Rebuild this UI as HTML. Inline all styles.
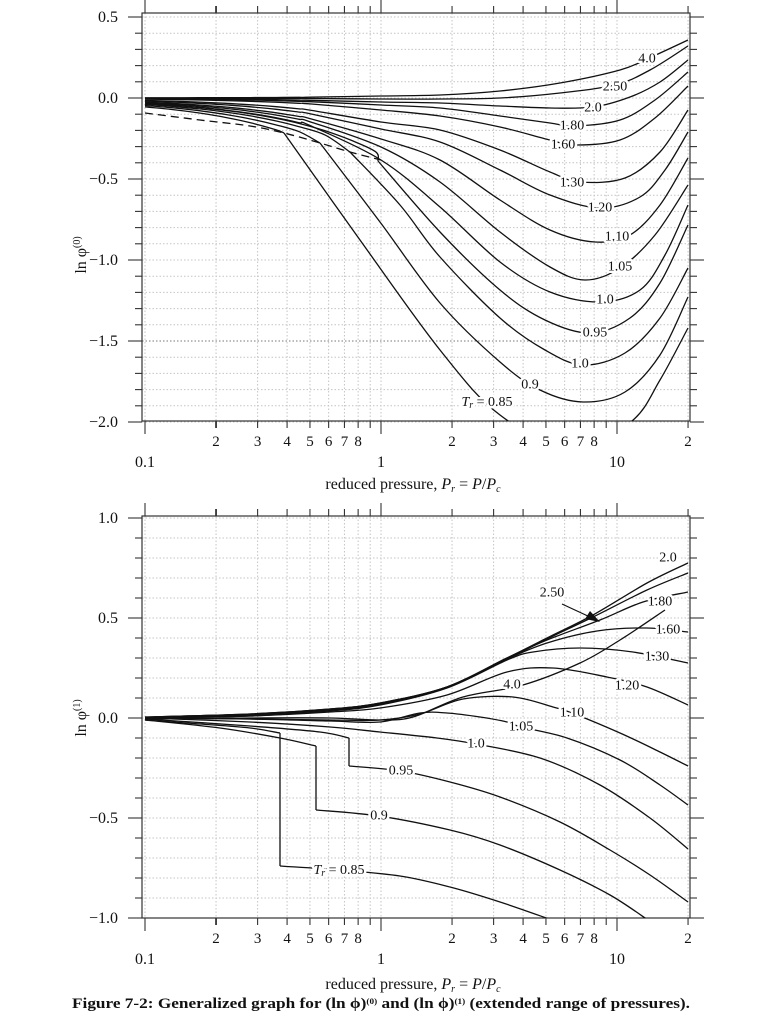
<!DOCTYPE html>
<html><head><meta charset="utf-8">
<style>
html,body{margin:0;padding:0;background:#fff;}
svg{display:block;}
text{font-family:"Liberation Serif",serif;fill:#111;}
.lab{font-size:14px;stroke:#fff;stroke-width:5px;paint-order:stroke;stroke-linejoin:round;text-anchor:middle;dominant-baseline:central;}
</style></head>
<body>
<div id="c"></div>
<script>
(function(){
var s=[];
function X(p){return 145+236*(Math.log10(p)+1);}
function cr(pts){
  var d='M'+pts[0][0].toFixed(1)+','+pts[0][1].toFixed(1);
  for(var i=0;i<pts.length-1;i++){
    var p0=pts[i-1]||pts[i],p1=pts[i],p2=pts[i+1],p3=pts[i+2]||p2;
    var c1=[p1[0]+(p2[0]-p0[0])/6,p1[1]+(p2[1]-p0[1])/6];
    var c2=[p2[0]-(p3[0]-p1[0])/6,p2[1]-(p3[1]-p1[1])/6];
    d+=' C'+c1[0].toFixed(1)+','+c1[1].toFixed(1)+' '+c2[0].toFixed(1)+','+c2[1].toFixed(1)+' '+p2[0].toFixed(1)+','+p2[1].toFixed(1);
  }
  return d;
}
function yT(v){return 98-162*v;}
function vir(Tr,pmax){
  var B0=0.083-0.422/Math.pow(Tr,1.6);var pts=[];
  var prs=[0.1,0.13,0.17,0.22,0.28,0.36,0.45,0.58,0.75,0.95];
  for(var i=0;i<prs.length;i++){if(prs[i]<pmax-0.005)pts.push([X(prs[i]),yT(B0*prs[i]/Tr)]);}
  pts.push([X(pmax),yT(B0*pmax/Tr)]);
  return pts;
}
function path(d,extra){s.push('<path d="'+d+'" fill="none" stroke="#111" stroke-width="1.3" '+(extra||'')+'/>');}
function txt(x,y,t,cls,extra){s.push('<text x="'+x+'" y="'+y+'" '+(cls?'class="'+cls+'" ':'')+(extra||'')+'>'+t+'</text>');}

function axes(top,bot,vals,yf,grid,dark){
  var L=142,R=690;
  for(var g=0;g<grid.length;g++){var y=yf(grid[g]);
    s.push('<line x1="'+L+'" x2="'+R+'" y1="'+y+'" y2="'+y+'" stroke="'+(Math.abs(grid[g]-dark)<1e-6?'#777':'#c4c4c4')+'" stroke-width="1" stroke-dasharray="1.5 2"/>');}
  var decs=[0.1,1,10];
  for(var d=0;d<3;d++)for(var m=1;m<=9;m++){var p=decs[d]*m;if(p>20.01)break;var x=X(p);
    if(x>R-1)continue;
    s.push('<line x1="'+x+'" x2="'+x+'" y1="'+top+'" y2="'+bot+'" stroke="#c4c4c4" stroke-width="1" stroke-dasharray="1.5 2"/>');}
  s.push('<rect x="'+L+'" y="'+top+'" width="'+(R-L)+'" height="'+(bot-top)+'" fill="none" stroke="#333" stroke-width="1.2"/>');
  for(var d=0;d<3;d++)for(var m=1;m<=9;m++){var p=decs[d]*m;if(p>20.01)break;var x=X(p);var maj=(m==1);
    var len=maj?13:7;
    s.push('<line x1="'+x+'" x2="'+x+'" y1="'+top+'" y2="'+(top-len)+'" stroke="#333" stroke-width="'+(m==2&&d==0?1.8:1.1)+'"/>');
    s.push('<line x1="'+x+'" x2="'+x+'" y1="'+bot+'" y2="'+(bot+len)+'" stroke="#333" stroke-width="'+(m==2&&d==0?1.8:1.1)+'"/>');
    if(!maj&&m!=9)txt(x,bot+25,''+m,'','font-size="15" text-anchor="middle"');
  }
  txt(X(0.1),bot+46,'0.1','','font-size="16" text-anchor="middle"');
  txt(X(1),bot+46,'1','','font-size="16" text-anchor="middle"');
  txt(X(10),bot+46,'10','','font-size="16" text-anchor="middle"');
  for(var g=0;g<grid.length;g++){var v=grid[g];var y=yf(v);
    var maj=Math.abs(Math.round(v*2)-v*2)<1e-6;var len=maj?14:7;
    s.push('<line x1="'+L+'" x2="'+(L-len)+'" y1="'+y+'" y2="'+y+'" stroke="#333" stroke-width="1.1"/>');
    s.push('<line x1="'+R+'" x2="'+(R+len)+'" y1="'+y+'" y2="'+y+'" stroke="#333" stroke-width="1.1"/>');
  }
  for(var i=0;i<vals.length;i++){var v=vals[i];var t=(v<0?'\u2212':'')+Math.abs(v).toFixed(1);
    txt(118,yf(v)+5,t,'','font-size="16" text-anchor="end"');}
}

s.push('<svg xmlns="http://www.w3.org/2000/svg" width="768" height="1024" viewBox="0 0 768 1024">');
s.push('<defs><clipPath id="c1"><rect x="142" y="13" width="548" height="408"/></clipPath><clipPath id="c2"><rect x="142" y="516" width="548" height="402"/></clipPath></defs>');

var gT=[];for(var k=5;k>=-20;k--)gT.push(k/10);
axes(13,421,[0.5,0,-0.5,-1,-1.5,-2],yT,gT,-1.5);
s.push('<g clip-path="url(#c1)">');
var smooth=[
 [1.0,[[381,160],[440,207],[500,262],[550,292],[600,302],[640,290],[665,255],[688,205]]],
 [1.05,[[381,147],[440,182],[500,232],[550,267],[585,280],[620,268],[655,235],[688,185]]],
 [1.10,[[381,139],[440,160],[500,200],[550,230],[595,242],[630,235],[660,205],[688,158]]],
 [1.20,[[381,129],[440,142],[500,170],[550,195],[600,208],[640,197],[665,170],[688,132]]],
 [1.30,[[381,122],[440,130],[500,150],[550,172],[580,182],[625,178],[660,152],[688,110]]],
 [1.60,[[381,110],[440,116],[500,127],[550,140],[575,145],[620,140],[655,118],[688,86]]],
 [1.80,[[381,105],[440,108],[500,116],[550,123],[575,126],[620,120],[655,100],[688,72]]],
 [2.0,[[381,102],[440,103],[500,106],[550,108],[593,107],[630,97],[660,82],[688,60]]],
 [2.5,[[381,99],[440,99],[500,98],[560,93],[615,85],[650,70],[688,46]]],
 [4.0,[[381,96],[440,95],[500,91],[560,83],[620,70],[647,59],[688,40]]]
];
for(var i=0;i<smooth.length;i++){path(cr(vir(smooth[i][0],0.5).concat(smooth[i][1])));}
var kinked=[
 [0.85,[[284,133],[360,240],[440,350],[500,415],[575,452],[632,421],[660,380],[688,328]]],
 [0.90,[[320,143],[380,222],[440,303],[500,362],[540,390],[583,402],[625,392],[660,355],[688,297]]],
 [0.95,[[350,152],[400,205],[440,257],[500,318],[545,350],[583,365],[625,353],[660,318],[688,268]]],
 [0.99,[[378,161],[440,232],[500,290],[545,320],[590,333],[630,318],[660,283],[688,225]]]
];
for(var i=0;i<kinked.length;i++){var k0=kinked[i][1][0];var ps=Math.pow(10,(k0[0]-145)/236-1);
  var v=vir(kinked[i][0],ps);v[v.length-1]=[k0[0],k0[1]];path(cr(v));path(cr(kinked[i][1]));}
path(cr([[145,113],[200,120],[250,126],[284,133],[320,143],[350,152],[381,160]]),'stroke-dasharray="8 5" stroke-width="1.8"');
s.push('</g>');
var lt=[['4.0',647,59],['2.50',615,87],['2.0',593,108],['1.80',572,126],['1.60',563,145],['1.30',572,183],['1.20',600,208],['1.10',617,237],['1.05',620,267],['1.0',605,300],['0.95',595,333],['1.0',580,364],['0.9',530,385]];
for(var i=0;i<lt.length;i++)txt(lt[i][1],lt[i][2],lt[i][0],'lab');
txt(487,402,'<tspan font-style="italic">T</tspan><tspan font-size="10" dy="3" font-style="italic">r</tspan><tspan dy="-3"> = 0.85</tspan>','lab');
txt(413,489,'reduced pressure, <tspan font-style="italic">P</tspan><tspan font-size="10" dy="3" font-style="italic">r</tspan><tspan dy="-3"> = </tspan><tspan font-style="italic">P</tspan>/<tspan font-style="italic">P</tspan><tspan font-size="10" dy="3" font-style="italic">c</tspan>','','font-size="16" text-anchor="middle"');
txt(0,0,'ln φ<tspan font-size="10" dy="-6">(0)</tspan>','','font-size="16" text-anchor="middle" transform="translate(86,255) rotate(-90)"');

function yB(v){return 718-200*v;}
var gB=[];for(var k=10;k>=-10;k--)gB.push(k/10);
axes(516,918,[1,0.5,0,-0.5,-1],yB,gB,99);
s.push('<g clip-path="url(#c2)">');
var bc=[
 [[145,720],[200,724],[250,728],[280,733]],[[280,733],[280,866]],[[280,866],[339,870],[400,876],[450,887],[500,902],[552,920]],
 [[145,720],[220,728],[280,738],[316,746]],[[316,746],[316,810]],[[316,810],[379,816],[450,830],[500,845],[560,870],[610,895],[648,920]],
 [[145,719],[250,726],[320,732],[349,738]],[[349,738],[349,766]],[[349,766],[401,771],[450,782],[500,797],[560,822],[610,850],[650,875],[688,902]],
 [[145,718],[250,722],[330,727],[380,732],[437,738],[476,744],[540,758],[600,785],[650,818],[688,849]],
 [[145,718],[250,719],[330,721],[380,722],[420,713],[447,713],[480,717],[507,722],[521,727],[567,738],[620,760],[660,785],[688,805]],
 [[145,718],[250,719],[330,720],[380,720],[420,714],[463,699],[513,697],[553,707],[572,713],[620,733],[660,752],[688,766]],
 [[145,718],[250,716],[330,712],[380,708],[447,695],[507,672],[553,668],[607,677],[647,687],[688,705]],
 [[145,718],[250,716],[330,711],[380,705],[447,688],[507,660],[533,652],[580,648],[633,652],[688,663]],
 [[145,718],[250,715],[330,710],[380,704],[447,687],[507,659],[547,643],[597,631],[647,628],[688,632]],
 [[145,718],[250,715],[330,710],[380,704],[447,687],[507,658],[547,640],[600,620],[643,602],[688,592]],
 [[145,717],[250,714],[330,709],[380,703],[447,687],[507,659],[547,639],[593,617],[647,590],[688,573]],
 [[145,717],[250,714],[330,709],[380,703],[447,687],[507,658],[547,638],[593,615],[647,583],[688,563]],
 [[145,719],[250,718],[330,718],[380,720],[413,717],[463,697],[523,685],[580,663],[620,640],[665,610]]
];
for(var i=0;i<bc.length;i++)path(cr(bc[i]));
s.push('</g>');
s.push('<line x1="562" y1="604" x2="590" y2="617" stroke="#111" stroke-width="1.2"/>');
s.push('<polygon points="600,622 585,619 590,611" fill="#111"/>');
var lb=[['2.0',668,558],['2.50',552,593],['1.80',660,602],['1.60',668,630],['1.30',657,657],['1.20',627,686],['4.0',512,685],['1.10',572,713],['1.05',521,727],['1.0',476,744],['0.95',401,771],['0.9',379,816]];
for(var i=0;i<lb.length;i++)txt(lb[i][1],lb[i][2],lb[i][0],'lab');
txt(339,870,'<tspan font-style="italic">T</tspan><tspan font-size="10" dy="3" font-style="italic">r</tspan><tspan dy="-3"> = 0.85</tspan>','lab');
txt(413,989,'reduced pressure, <tspan font-style="italic">P</tspan><tspan font-size="10" dy="3" font-style="italic">r</tspan><tspan dy="-3"> = </tspan><tspan font-style="italic">P</tspan>/<tspan font-style="italic">P</tspan><tspan font-size="10" dy="3" font-style="italic">c</tspan>','','font-size="16" text-anchor="middle"');
txt(0,0,'ln φ<tspan font-size="10" dy="-6">(1)</tspan>','','font-size="16" text-anchor="middle" transform="translate(86,718) rotate(-90)"');

txt(72,1008,'Figure 7-2: Generalized graph for (ln ϕ)<tspan font-size="8" dy="-4">(0)</tspan><tspan dy="4"> and (ln ϕ)</tspan><tspan font-size="8" dy="-4">(1)</tspan><tspan dy="4"> (extended range of pressures).</tspan>','','font-size="15" font-weight="bold" fill="#333" textLength="618" lengthAdjust="spacingAndGlyphs"');
s.push('</svg>');
document.getElementById('c').innerHTML=s.join('');
})();
</script>
</body></html>
